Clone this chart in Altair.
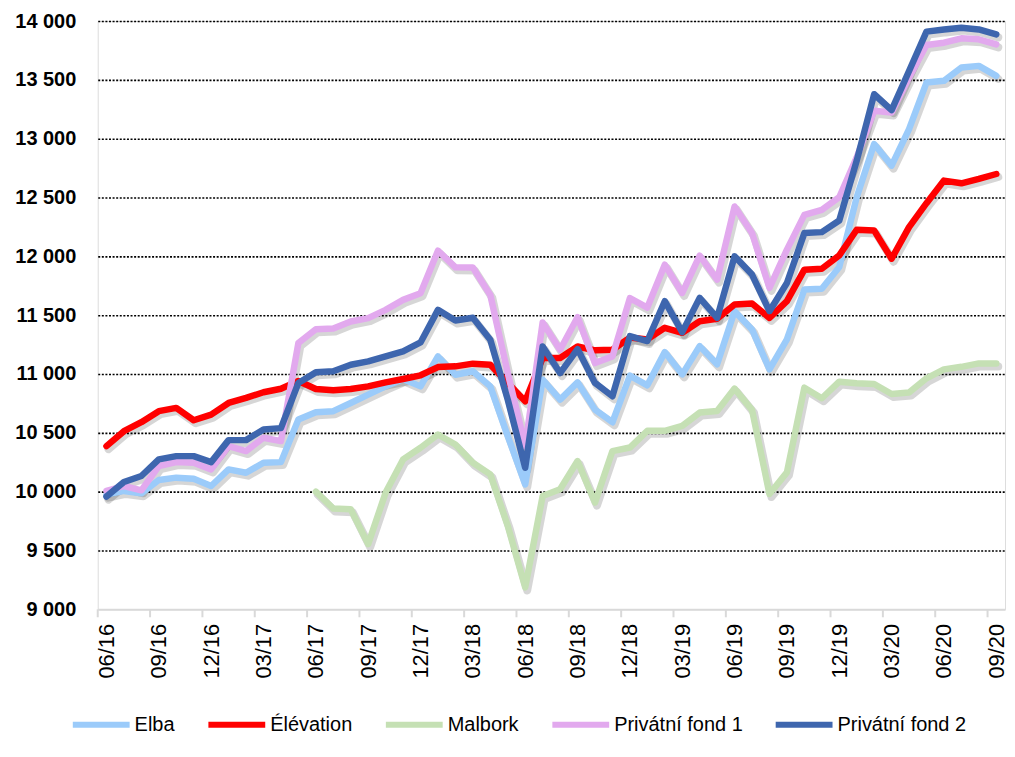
import altair as alt
import pandas as pd

months = ["06/16", "07/16", "08/16", "09/16", "10/16", "11/16", "12/16",
          "01/17", "02/17", "03/17", "04/17", "05/17", "06/17", "07/17", "08/17", "09/17", "10/17", "11/17", "12/17",
          "01/18", "02/18", "03/18", "04/18", "05/18", "06/18", "07/18", "08/18", "09/18", "10/18", "11/18", "12/18",
          "01/19", "02/19", "03/19", "04/19", "05/19", "06/19", "07/19", "08/19", "09/19", "10/19", "11/19", "12/19",
          "01/20", "02/20", "03/20", "04/20", "05/20", "06/20", "07/20", "08/20", "09/20"]

series_names = ["Elba", "Élévation", "Malbork", "Privátní fond 1", "Privátní fond 2"]
series_colors = ["#9BCBFA", "#FF0000", "#C5E0B4", "#E2A9EE", "#3E66AE"]

elba = [9975, 10006, 9986, 10099, 10119, 10110, 10048, 10189, 10161, 10246, 10251,
        10613, 10675, 10684, 10754, 10825, 10895, 10958, 10895, 11150, 10994, 11023,
        10895, 10472, 10062, 10952, 10782, 10929, 10698, 10590, 10986, 10904, 11186,
        10997, 11237, 11082, 11534, 11379, 11040, 11294, 11718, 11725, 11910, 12503,
        12955, 12771, 13082, 13477, 13492, 13605, 13619, 13534]

elevation = [10387, 10514, 10590, 10684, 10712, 10607, 10655, 10754, 10797, 10845, 10875,
             10940, 10873, 10862, 10873, 10895, 10929, 10958, 10989, 11059, 11065, 11088,
             11079, 10924, 10768, 11136, 11136, 11234, 11201, 11206, 11310, 11294, 11393,
             11350, 11449, 11469, 11590, 11599, 11477, 11619, 11887, 11895, 12008, 12226,
             12220, 11980, 12249, 12452, 12644, 12621, 12658, 12700]

malbork = [None] * 12 + [10000, 9856, 9850, 9554, 9992, 10274, 10373, 10486, 10401, 10246,
                         10147, 9709, 9186, 9963, 10020, 10260, 9907, 10345, 10375, 10517,
                         10517, 10559, 10672, 10686, 10876, 10695, 9980, 10164, 10884, 10794,
                         10935, 10921, 10915, 10830, 10842, 10963, 11039, 11061, 11090, 11090]

fond1 = [10006, 10048, 10011, 10218, 10251, 10246, 10189, 10387, 10345, 10458, 10430,
         11263, 11381, 11387, 11446, 11475, 11545, 11630, 11686, 12048, 11907, 11905,
         11672, 11008, 10387, 11438, 11206, 11483, 11093, 11150, 11645, 11565, 11929,
         11689, 12006, 11802, 12424, 12198, 11732, 12057, 12353, 12395, 12503, 12842,
         13237, 13223, 13520, 13797, 13816, 13853, 13845, 13802]

fond2 = [9958, 10082, 10133, 10274, 10302, 10302, 10251, 10438, 10438, 10528, 10540,
         10924, 11014, 11023, 11079, 11107, 11150, 11192, 11268, 11545, 11455, 11478,
         11291, 10782, 10203, 11234, 11008, 11212, 10924, 10811, 11322, 11280, 11619,
         11356, 11647, 11477, 12000, 11845, 11534, 11774, 12198, 12206, 12305, 12813,
         13378, 13243, 13576, 13910, 13929, 13944, 13929, 13887]

y_ticks = [9000, 9500, 10000, 10500, 11000, 11500, 12000, 12500, 13000, 13500, 14000]
label_idx = list(range(0, len(months), 3))
tick_pos = [i - 0.5 for i in label_idx]

rows = []
for order, (name, vals) in enumerate(zip(series_names, [elba, elevation, malbork, fond1, fond2])):
    for i, v in enumerate(vals):
        if v is not None:
            rows.append({"idx": i, "month": months[i], "series": name, "value": v, "order": order})
df = pd.DataFrame(rows)

month_arr = "[" + ",".join("'" + m + "'" for m in months) + "]"

x_scale = alt.Scale(domain=[-0.5, len(months) - 0.5], nice=False, zero=False)
y_scale = alt.Scale(domain=[9000, 14000], nice=False, zero=False)

x_enc = alt.X("idx:Q", scale=x_scale, title=None,
              axis=alt.Axis(values=label_idx, labelExpr=month_arr + "[datum.value]",
                            labelAngle=270, labelFontSize=22, labelFont="Liberation Sans",
                            labelColor="#000000", labelPadding=14, ticks=False, grid=False,
                            domainColor="#D9D9D9", domainWidth=2, zindex=1, labelOverlap=False))
y_enc = alt.Y("value:Q", scale=y_scale, title=None,
              axis=alt.Axis(values=y_ticks,
                            labelExpr="replace(format(datum.value, ',d'), ',', ' ')",
                            labelFontSize=20, labelFontWeight="bold", labelFont="Liberation Sans",
                            labelColor="#000000", labelPadding=22, ticks=False, domain=False,
                            grid=True, gridDash=[2, 1.6], gridWidth=1.6,
                            gridColor={"condition": {"test": "datum.value == 9000", "value": "transparent"},
                                       "value": "#000000"}))

base = alt.Chart(df)

shadow = base.mark_line(strokeWidth=8, color="#000000", opacity=0.16, xOffset=2, yOffset=3,
                        strokeJoin="round", strokeCap="round").encode(
    x=x_enc, y=y_enc, detail="order:N", order="idx:Q")

lines = base.mark_line(strokeWidth=6.5, strokeJoin="round", strokeCap="round").encode(
    x=x_enc, y=y_enc,
    color=alt.Color("series:N",
                    scale=alt.Scale(domain=series_names, range=series_colors),
                    legend=alt.Legend(title=None, orient="none", legendX=-28, legendY=674,
                                      direction="horizontal", columns=5,
                                      symbolType="stroke", symbolSize=3249, symbolStrokeWidth=6,
                                      labelFontSize=20, labelFont="Liberation Sans",
                                      labelColor="#000000", labelOffset=2, columnPadding=21,
                                      labelLimit=300)),
    detail="order:N",
    order="idx:Q",
)

ticks_df = pd.DataFrame({"pos": tick_pos})
tick_marks = alt.Chart(ticks_df).mark_rule(color="#D9D9D9", strokeWidth=2).encode(
    x=alt.X("pos:Q", scale=x_scale),
    y=alt.value(590), y2=alt.value(598))

chart = alt.layer(shadow, lines, tick_marks).properties(
    width=910, height=590,
    autosize=alt.AutoSizeParams(type="none"),
    padding={"left": 90, "top": 12, "right": 2, "bottom": 134},
).configure_view(stroke=None).configure(background="white")

chart.save("out.html", embed_options={"renderer": "svg", "actions": False})
